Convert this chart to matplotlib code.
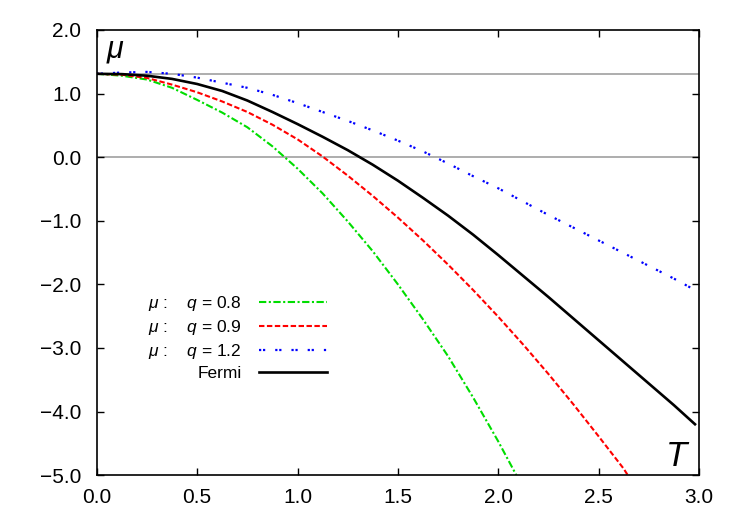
import matplotlib
matplotlib.use("Agg")
from matplotlib import pyplot as plt

# values
T = [0.0, 0.125, 0.25, 0.375, 0.5, 0.625, 0.75, 0.875, 1.0, 1.125, 1.25, 1.375, 1.5,
     1.625, 1.75, 1.875, 2.0, 2.125, 2.25, 2.375, 2.5, 2.625, 2.75, 2.875, 2.98]
mu_fermi = [1.31, 1.305, 1.28, 1.23, 1.15, 1.04, 0.89, 0.71, 0.52, 0.32, 0.11, -0.12, -0.37,
            -0.64, -0.92, -1.22, -1.54, -1.87, -2.20, -2.54, -2.88, -3.22, -3.56, -3.90, -4.20]
mu_q12 = [1.31, 1.33, 1.34, 1.31, 1.25, 1.17, 1.09, 0.98, 0.85, 0.71, 0.57, 0.42, 0.26,
          0.09, -0.10, -0.30, -0.49, -0.70, -0.91, -1.11, -1.31, -1.51, -1.71, -1.91, -2.09]

T_q09 = [0.0, 0.125, 0.25, 0.375, 0.5, 0.625, 0.75, 0.875, 1.0, 1.125, 1.25, 1.375, 1.5,
         1.625, 1.75, 1.875, 2.0, 2.125, 2.25, 2.375, 2.5, 2.625, 2.645]
mu_q09 = [1.31, 1.295, 1.245, 1.14, 1.02, 0.875, 0.71, 0.51, 0.28, 0.01, -0.29, -0.61, -0.95,
          -1.31, -1.69, -2.09, -2.51, -2.95, -3.41, -3.89, -4.39, -4.90, -5.0]

T_q08 = [0.0, 0.125, 0.25, 0.375, 0.5, 0.625, 0.75, 0.875, 1.0, 1.125, 1.25, 1.375, 1.5,
         1.625, 1.75, 1.875, 2.0, 2.09]
mu_q08 = [1.31, 1.28, 1.22, 1.09, 0.90, 0.70, 0.47, 0.17, -0.18, -0.57, -1.01, -1.48, -2.00,
          -2.55, -3.13, -3.78, -4.47, -5.0]

ref_levels = [1.31, 0.0]
xticks = [0.0, 0.5, 1.0, 1.5, 2.0, 2.5, 3.0]
yticks = [2.0, 1.0, 0.0, -1.0, -2.0, -3.0, -4.0, -5.0]

plt.rcParams['font.family'] = ['Liberation Sans', 'DejaVu Sans']
plt.rcParams['mathtext.fontset'] = 'custom'
plt.rcParams['mathtext.rm'] = 'Liberation Sans'
plt.rcParams['mathtext.it'] = 'Liberation Sans:italic'

fig = plt.figure(figsize=(7.5, 5.25), dpi=100)
ax = fig.add_axes([0.129, 0.095, 0.803, 0.848])

for lv in ref_levels:
    ax.axhline(lv, color='#a0a0a0', lw=1.2, zorder=1)

ax.plot(T_q08, mu_q08, color='#00dd00', lw=1.5, linestyle=(0, (3.5, 1.2, 1.0, 1.2)),
        label=r'$\mu$ :    $q$ = 0.8')
ax.plot(T_q09, mu_q09, color='#ff0000', lw=1.5, linestyle=(0, (2.6, 1.2)),
        label=r'$\mu$ :    $q$ = 0.9')
ax.plot(T, mu_q12, color='#0000ff', lw=1.6, linestyle=(0, (1.0, 0.8, 1.0, 4.5)),
        label=r'$\mu$ :    $q$ = 1.2')
ax.plot(T, mu_fermi, color='black', lw=1.9, label='Fermi')

ax.set_xlim(0, 3.0)
ax.set_ylim(-5.0, 2.0)
ax.set_xticks(xticks)
ax.set_yticks(yticks)
ax.set_xticklabels([f"{v:.1f}" for v in xticks])
ax.set_yticklabels([f"{v:.1f}".replace('-', '\u2212') for v in yticks])
ax.tick_params(direction='in', length=5, width=1, top=True, right=True,
               labelsize=15, pad=9)
ax.tick_params(axis='y', pad=11)
for s in ax.spines.values():
    s.set_linewidth(1.2)

ax.text(0.095, 1.56, r'$\mu$', fontsize=22, ha='center', va='baseline')
ax.text(2.895, -4.85, r'$T$', fontsize=25, ha='center', va='baseline')

leg = ax.legend(loc='center right', bbox_to_anchor=(0.382, 0.309), frameon=False,
                markerfirst=False, fontsize=12.5, handlelength=3.9, handletextpad=1.0,
                labelspacing=0.3, borderpad=0, borderaxespad=0)

fig.savefig('out.png', dpi=100)
